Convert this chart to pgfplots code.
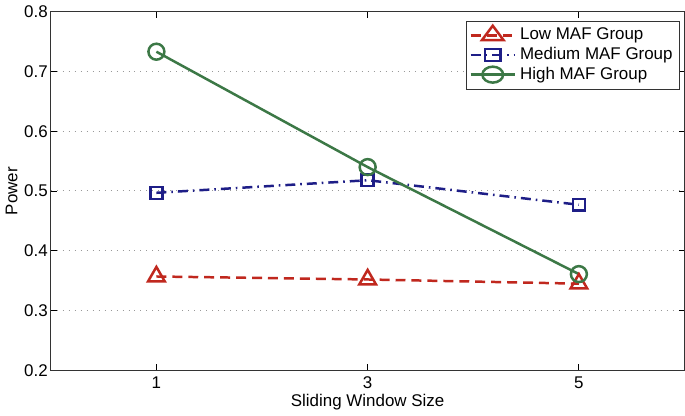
\documentclass[border=0pt]{standalone}
\usepackage{pgfplots}
\pgfplotsset{compat=1.18}
\usepackage{fontspec}
\setmainfont{Liberation Sans}
\definecolor{lowc}{RGB}{192,40,30}
\definecolor{medc}{RGB}{30,30,135}
\definecolor{highc}{RGB}{60,120,70}
\begin{document}
\fontsize{8.5}{10}\selectfont
\begin{tikzpicture}
\begin{axis}[
  scale only axis,
  width=318pt, height=180pt,
  xmin=0, xmax=6, ymin=0.2, ymax=0.8,
  xtick={1,3,5},
  ytick={0.2,0.3,0.4,0.5,0.6,0.7,0.8},
  yticklabel style={xshift=1.5pt, /pgf/number format/.cd, fixed, fixed zerofill, precision=1},
  /pgf/number format/assume math mode=true,
  tick align=inside,
  tick style={black, line width=0.4pt},
  major tick length=3pt,
  axis line style={line width=0.5pt, black!80},
  ymajorgrids,
  grid style={dash pattern=on 0.5pt off 2.5pt, gray!80, line width=0.5pt},
  xlabel={Sliding Window Size},
  ylabel={Power},
  tick label style={font=\fontsize{8.5}{10}\selectfont},
  label style={font=\fontsize{8.5}{10}\selectfont},
  xlabel style={yshift=3pt},
  ylabel style={yshift=-2.5pt},
  legend style={at={(0.993,0.975)}, anchor=north east, font=\fontsize{8.5}{10}\selectfont,
    draw=black!80, line width=0.5pt, inner sep=1.5pt, row sep=-1.5pt},
  legend image post style={xscale=1.3},
  legend cell align=left,
]
\addplot[lowc, line width=1.25pt, dash pattern=on 5pt off 3pt, mark=triangle, mark size=4.8pt, mark options={solid, line width=1.25pt}]
  coordinates {(1,0.357) (3,0.352) (5,0.345)};
\addlegendentry{Low MAF Group}
\addplot[medc, line width=1.25pt, dash pattern=on 5pt off 2.5pt on 0.8pt off 2.5pt, mark=square, mark size=3pt, mark options={solid, line width=1.25pt}]
  coordinates {(1,0.497) (3,0.518) (5,0.477)};
\addlegendentry{Medium MAF Group}
\addplot[highc, line width=1.25pt, mark=o, mark size=4pt, mark options={solid, line width=1.25pt}]
  coordinates {(1,0.733) (3,0.540) (5,0.361)};
\addlegendentry{High MAF Group}
\end{axis}
\end{tikzpicture}
\end{document}
